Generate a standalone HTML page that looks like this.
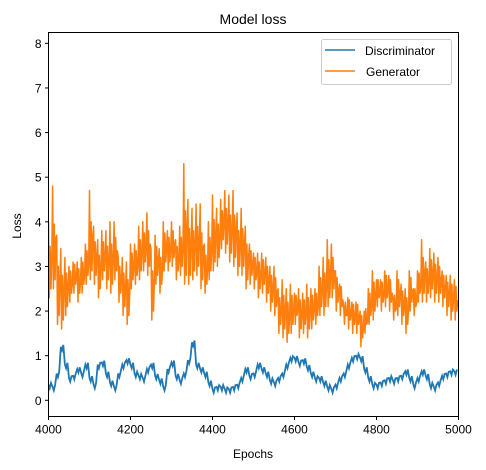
<!DOCTYPE html>
<html><head><meta charset="utf-8"><style>
body{margin:0;background:#fff;}
svg{display:block;font-family:"Liberation Sans","DejaVu Sans",sans-serif;}
</style></head><body>
<svg id="chart" width="486" height="470" viewBox="0 0 486 470"></svg>
<script>
const epochs=[4000,4010,4020,4030,4040,4050,4060,4070,4080,4090,4100,4110,4120,4130,4140,4150,4160,4170,4180,4190,4200,4210,4220,4230,4240,4250,4260,4270,4280,4290,4300,4310,4320,4330,4340,4350,4360,4370,4380,4390,4400,4410,4420,4430,4440,4450,4460,4470,4480,4490,4500,4510,4520,4530,4540,4550,4560,4570,4580,4590,4600,4610,4620,4630,4640,4650,4660,4670,4680,4690,4700,4710,4720,4730,4740,4750,4760,4770,4780,4790,4800,4810,4820,4830,4840,4850,4860,4870,4880,4890,4900,4910,4920,4930,4940,4950,4960,4970,4980,4990];
const genHigh=[4.0,4.8,3.7,3.4,3.2,3.0,3.1,3.1,3.2,3.5,4.7,3.9,3.6,3.8,3.8,4.0,4.0,3.2,3.2,3.1,3.5,3.5,3.9,4.0,4.2,3.4,3.7,3.4,4.0,3.8,4.0,3.6,3.9,5.3,4.5,4.3,4.4,4.4,3.5,4.0,4.6,4.3,4.5,4.7,4.6,4.7,4.2,4.3,3.9,3.5,3.3,3.3,3.3,3.2,3.0,3.0,2.5,2.7,2.5,2.6,2.4,2.5,2.4,2.6,2.5,2.5,3.0,3.2,3.6,3.5,2.9,2.6,2.1,2.3,2.2,2.2,2.0,2.0,2.5,2.9,2.7,2.7,2.9,2.8,2.3,2.9,2.6,2.5,2.9,2.5,2.9,3.6,3.1,3.4,3.3,3.2,2.9,2.8,2.8,2.7];
const genLow=[2.3,2.5,1.7,1.6,1.9,2.2,2.4,2.2,2.4,2.6,2.7,2.6,2.3,2.7,2.5,2.4,2.7,2.2,1.9,1.7,2.5,2.6,2.7,2.9,2.8,1.8,2.6,2.4,2.9,2.9,3.0,2.7,2.8,2.6,2.6,2.7,2.8,2.5,2.4,2.7,2.9,3.0,3.4,3.3,3.1,3.0,2.8,2.8,2.5,2.6,2.5,2.3,2.4,2.2,2.0,1.9,1.5,1.4,1.3,1.5,1.7,1.4,1.5,1.4,1.6,1.7,1.9,1.9,2.1,2.3,2.0,1.9,1.7,1.6,1.5,1.5,1.2,1.5,1.7,1.8,2.1,2.0,2.1,2.0,1.8,1.9,1.7,1.5,2.0,1.9,2.2,2.2,2.2,2.3,2.2,2.2,2.1,1.9,1.8,1.8];
const disc=[0.35,0.3,0.6,1.2,0.8,0.5,0.55,0.7,0.6,0.8,0.5,0.35,0.8,0.85,0.6,0.4,0.3,0.6,0.8,0.9,0.8,0.6,0.55,0.5,0.7,0.8,0.55,0.45,0.3,0.7,0.85,0.55,0.45,0.6,0.9,1.3,0.8,0.7,0.6,0.4,0.25,0.3,0.3,0.25,0.25,0.3,0.35,0.5,0.7,0.55,0.6,0.8,0.7,0.6,0.45,0.4,0.5,0.6,0.8,0.95,0.95,0.85,0.9,0.75,0.6,0.5,0.5,0.4,0.3,0.25,0.35,0.5,0.6,0.8,0.95,1.0,0.95,0.7,0.5,0.35,0.35,0.4,0.45,0.5,0.45,0.5,0.55,0.65,0.5,0.35,0.5,0.65,0.55,0.35,0.3,0.4,0.55,0.6,0.65,0.65];
const xTicks=[4000,4200,4400,4600,4800,5000];
const yTicks=[0,1,2,3,4,5,6,7,8];

const NS="http://www.w3.org/2000/svg";
const svg=document.getElementById('chart');
const L=48.5,R=458.5,T=32.5,B=416.5;
const xS=v=>L+(v-4000)/1000*(R-L);
const yS=v=>400.3-v*44.62;
function mk(tag,attrs,parent){const e=document.createElementNS(NS,tag);for(const k in attrs)e.setAttribute(k,attrs[k]);(parent||svg).appendChild(e);return e;}

const clip=mk('clipPath',{id:'pc'});mk('rect',{x:L,y:T,width:R-L,height:B-T},clip);

// generator path: dense zigzag between hi/lo in each bin
let gp=[];
epochs.forEach((e,i)=>{
  const h=genHigh[i],l=genLow[i],m=(h+l)/2;
  gp.push([xS(e),yS(h)]);
  gp.push([xS(e+2),yS(l)]);
  gp.push([xS(e+4),yS(m+0.3)]);
  gp.push([xS(e+6),yS(l+0.2)]);
  gp.push([xS(e+8),yS(m)]);
});
const g=mk('path',{d:'M'+gp.map(p=>p[0].toFixed(1)+','+p[1].toFixed(1)).join('L'),fill:'none',stroke:'#ff7f0e','stroke-width':1.5,'stroke-linejoin':'round','clip-path':'url(#pc)'});



let dp=[];
epochs.forEach((e,i)=>{dp.push([xS(e),yS(disc[i])]);dp.push([xS(e+3),yS(disc[i]-0.08)]);dp.push([xS(e+6),yS(disc[i]+0.04)]);});
const d=mk('path',{d:'M'+dp.map(p=>p[0].toFixed(1)+','+p[1].toFixed(1)).join('L'),fill:'none',stroke:'#1f77b4','stroke-width':1.8,'clip-path':'url(#pc)'});



const frame=mk('rect',{x:L,y:T,width:R-L,height:B-T,fill:'none',stroke:'#000','stroke-width':1});



xTicks.forEach(t=>{
  mk('line',{x1:xS(t),x2:xS(t),y1:B,y2:B+3.5,stroke:'#000'});
  const tx=mk('text',{x:xS(t),y:B+17,'text-anchor':'middle','font-size':12});
  tx.textContent=t;
  
  
});
yTicks.forEach(t=>{
  mk('line',{x1:L-3.5,x2:L,y1:yS(t),y2:yS(t),stroke:'#000'});
  const tx=mk('text',{x:L-7,y:yS(t)+4.5,'text-anchor':'end','font-size':12});
  tx.textContent=t;
  
  
});
const title=mk('text',{x:253,y:24,'text-anchor':'middle','font-size':14});title.textContent='Model loss';


const xl=mk('text',{x:253,y:458,'text-anchor':'middle','font-size':12});xl.textContent='Epochs';


const yl=mk('text',{x:21,y:226,'text-anchor':'middle','font-size':12,transform:'rotate(-90 21 226)'});yl.textContent='Loss';



const lg=mk('g',{});


mk('rect',{x:321.5,y:39.5,width:130,height:45,rx:2,fill:'#fff','fill-opacity':0.8,stroke:'#ccc'},lg);
mk('line',{x1:325,x2:355,y1:50,y2:50,stroke:'#1f77b4','stroke-width':1.5},lg);
mk('line',{x1:325,x2:355,y1:71,y2:71,stroke:'#ff7f0e','stroke-width':1.5},lg);
const t1=mk('text',{x:365,y:55,'font-size':12},lg);t1.textContent='Discriminator';


const t2=mk('text',{x:366,y:76,'font-size':12},lg);t2.textContent='Generator';


</script>
</body></html>
